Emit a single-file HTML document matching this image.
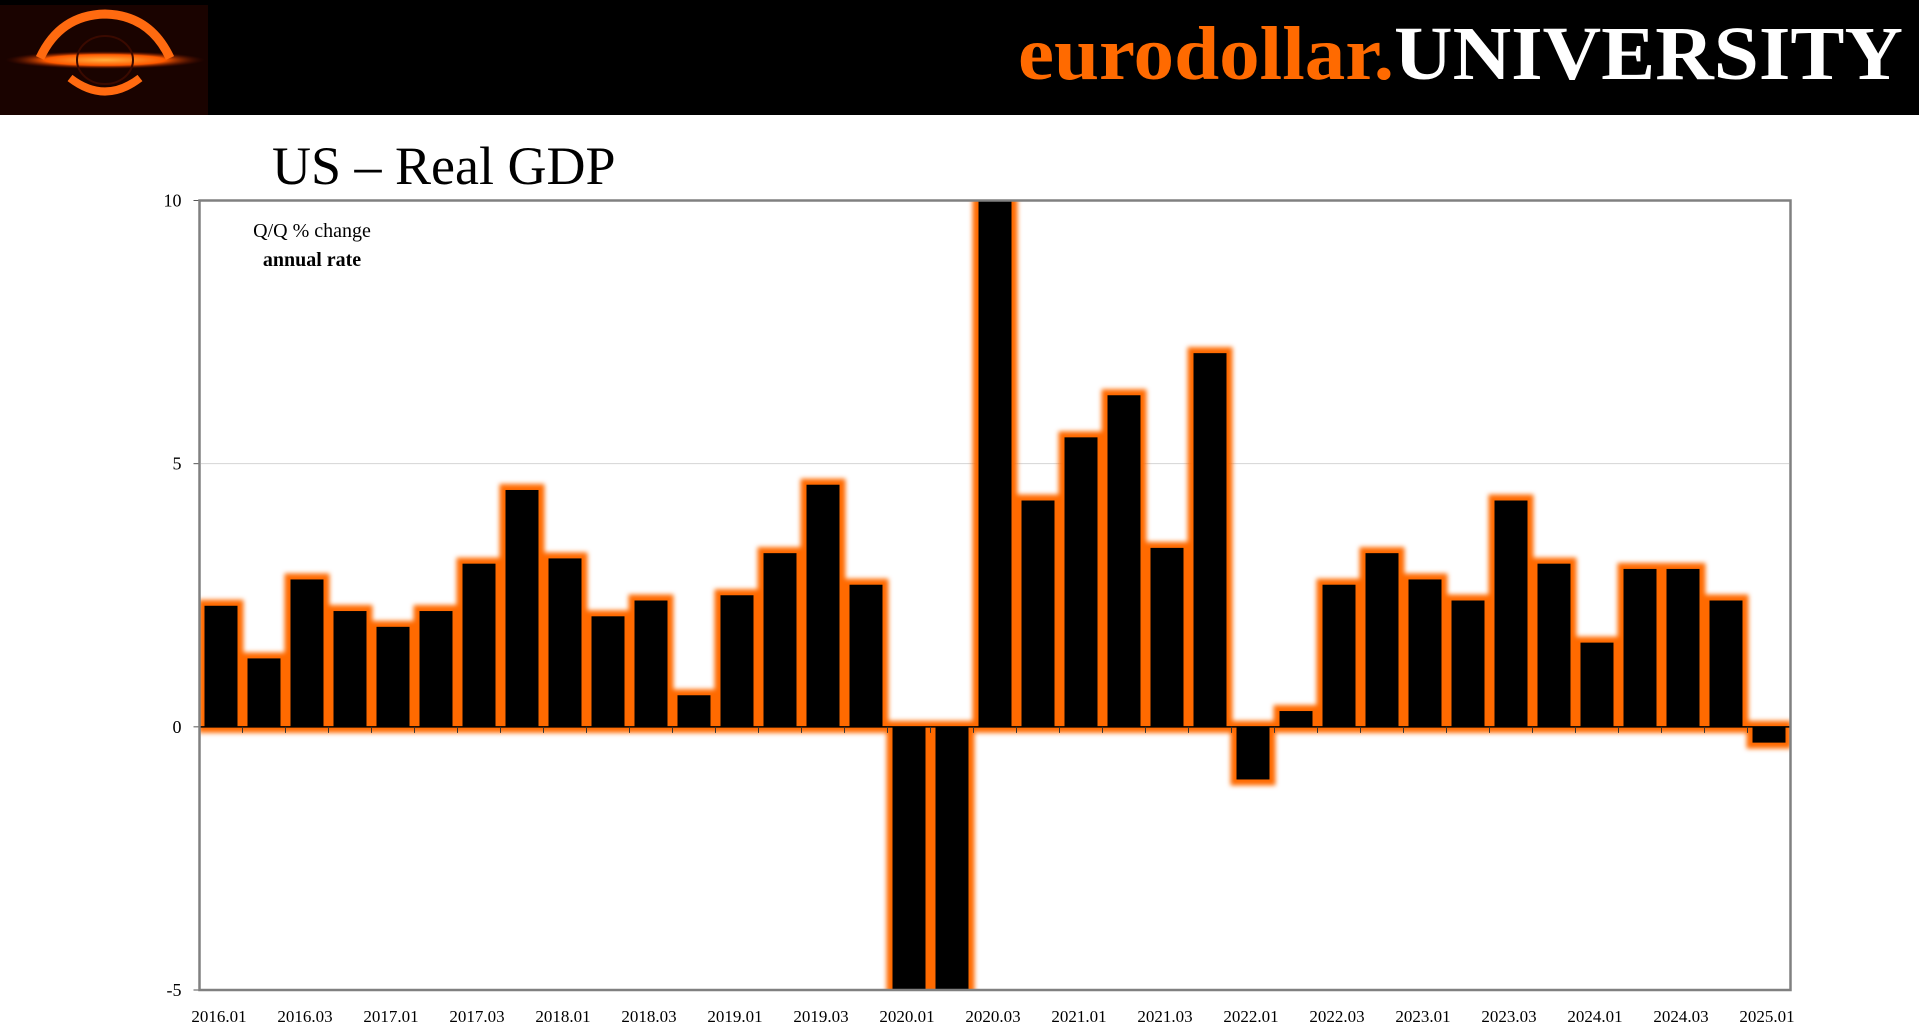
<!DOCTYPE html>
<html><head><meta charset="utf-8"><style>
html,body{margin:0;padding:0;background:#fff;width:1919px;height:1030px;overflow:hidden}
svg{display:block}
</style></head><body>
<svg id="chart" width="1919" height="1030" viewBox="0 0 1919 1030" xmlns="http://www.w3.org/2000/svg">
<defs>
<filter id="glow" x="-50%" y="-50%" width="200%" height="200%">
<feMorphology in="SourceAlpha" operator="dilate" radius="6" result="d"/>
<feGaussianBlur in="d" stdDeviation="2.5" result="b"/>
<feFlood flood-color="#ff6a00"/>
<feComposite in2="b" operator="in"/>
</filter>
<radialGradient id="lg" cx="50%" cy="50%" r="50%"><stop offset="0" stop-color="#ffb040"/><stop offset="0.6" stop-color="#ff5a00"/><stop offset="1" stop-color="#5a0a00" stop-opacity="0"/></radialGradient>
<clipPath id="plotclip"><rect x="199" y="200" width="1592" height="790"/></clipPath>
</defs>
<rect x="0" y="0" width="1919" height="115" fill="#000"/>
<g>
<rect x="0" y="5" width="208" height="110" fill="#1a0300"/>
<ellipse cx="105" cy="60" rx="100" ry="9" fill="url(#lg)"/>
<path d="M40 58 Q60 15 105 14 Q150 15 170 58" fill="none" stroke="#ff6a10" stroke-width="9"/>
<path d="M70 78 Q105 105 140 78" fill="none" stroke="#ff6a10" stroke-width="8"/>
<ellipse cx="105" cy="60" rx="28" ry="24" fill="none" stroke="#3a0a00" stroke-width="2"/>
</g>
<text x="1018" y="79" font-family="Liberation Serif, serif" font-weight="bold" font-size="76" textLength="885" lengthAdjust="spacingAndGlyphs"><tspan fill="#ff6a00">eurodollar.</tspan><tspan fill="#fff">UNIVERSITY</tspan></text>
<text x="272" y="184" font-family="Liberation Serif, serif" font-size="54" fill="#000">US – Real GDP</text>
<g id="grid"></g>
<g id="bars" clip-path="url(#plotclip)"></g>
<g id="axes"></g>
<text x="312" y="237" text-anchor="middle" font-family="Liberation Serif, serif" font-size="20">Q/Q % change</text>
<text x="312" y="266" text-anchor="middle" font-family="Liberation Serif, serif" font-weight="bold" font-size="20">annual rate</text>
</svg>
<script>
const quarters = ["2016.01","2016.02","2016.03","2016.04","2017.01","2017.02","2017.03","2017.04","2018.01","2018.02","2018.03","2018.04","2019.01","2019.02","2019.03","2019.04","2020.01","2020.02","2020.03","2020.04","2021.01","2021.02","2021.03","2021.04","2022.01","2022.02","2022.03","2022.04","2023.01","2023.02","2023.03","2023.04","2024.01","2024.02","2024.03","2024.04","2025.01"];
const gdpValues = [2.3,1.3,2.8,2.2,1.9,2.2,3.1,4.5,3.2,2.1,2.4,0.6,2.5,3.3,4.6,2.7,-5.5,-28.0,35.0,4.3,5.5,6.3,3.4,7.1,-1.0,0.3,2.7,3.3,2.8,2.4,4.3,3.1,1.6,3.0,3.0,2.4,-0.3];
const yTicks = [-5,0,5,10];
const NS="http://www.w3.org/2000/svg";
const L=199.5,R=1790.5,T=200.5,B=990;
const yMin=-5,yMax=10;
const y=v=>B-(v-yMin)/(yMax-yMin)*(B-T);
const slot=(R-L)/quarters.length;
const x=i=>L+slot*i;
function mk(t,a,p){const e=document.createElementNS(NS,t);for(const k in a)e.setAttribute(k,a[k]);p.appendChild(e);return e;}
const grid=document.getElementById('grid'),bars=document.getElementById('bars'),axes=document.getElementById('axes');
yTicks.forEach(v=>{
 if(v===5){const g=mk('line',{x1:L,x2:R,y1:y(v),y2:y(v),stroke:'#aaa','stroke-width':1,'stroke-dasharray':'1,1'},grid);
 
 }
 const t=mk('text',{x:L-18,y:y(v)+6,'text-anchor':'end','font-family':'Liberation Serif, serif','font-size':18},axes);
 t.textContent=v;
 
 
 mk('line',{x1:L-6,x2:L,y1:y(v),y2:y(v),stroke:'#555'},axes);
});
const glowG=mk('g',{filter:'url(#glow)'},bars);
const w=33;
gdpValues.forEach((v,i)=>{
 const cx=x(i)+slot/2;
 const top=Math.min(y(v),y(0)),h=Math.max(Math.abs(y(v)-y(0)),0.5);
 mk('rect',{x:cx-w/2,y:top,width:w,height:h,fill:'#000'},glowG);
});
gdpValues.forEach((v,i)=>{
 const cx=x(i)+slot/2;
 const top=Math.min(y(v),y(0)),h=Math.abs(y(v)-y(0));
 const r=mk('rect',{x:cx-w/2,y:top,width:w,height:h,fill:'#000'},bars);
 
 
});
mk('line',{x1:L,x2:R,y1:y(0),y2:y(0),stroke:'#000','stroke-width':1.5},axes);
for(let i=0;i<=quarters.length;i++){mk('line',{x1:x(i),x2:x(i),y1:y(0),y2:y(0)+6,stroke:'#333'},axes);}
const fr=mk('rect',{x:L,y:T,width:R-L,height:B-T,fill:'none',stroke:'#808080','stroke-width':2.5},axes);


quarters.forEach((q,i)=>{
 if(i%2!==0)return;
 const t=mk('text',{x:x(i)+slot/2-2,y:1022,'text-anchor':'middle','font-family':'Liberation Serif, serif','font-size':17},axes);
 t.textContent=q.slice(0,4)+'.'+(i%4===0?'01':'03');
 
 
});
</script>
</body></html>
